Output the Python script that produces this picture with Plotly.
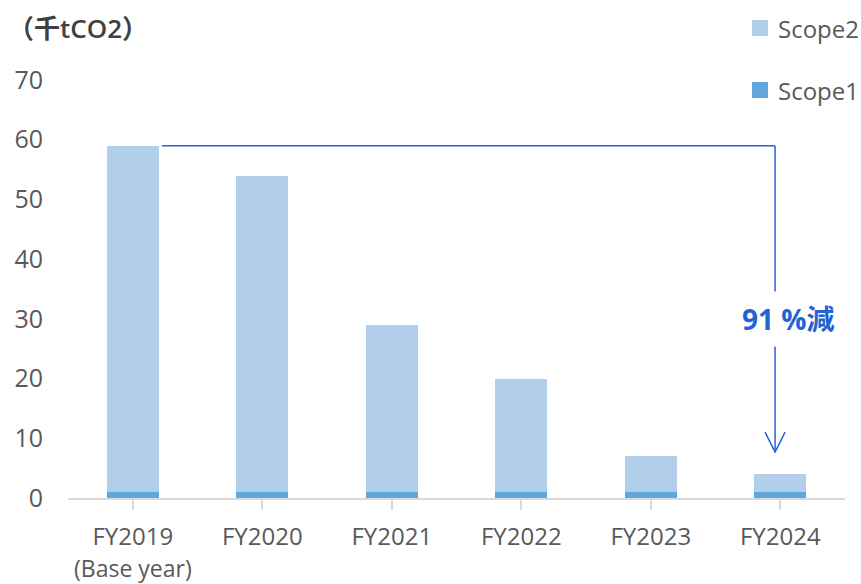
import plotly.graph_objects as go

years = ["FY2019", "FY2020", "FY2021", "FY2022", "FY2023", "FY2024"]
base_note = "(Base year)"
scope1 = [1, 1, 1, 1, 1, 1]
scope2 = [58, 53, 28, 19, 6, 3]
reduction_label = "91 %減"
unit_label = "（千tCO2）"

totals = [a + b for a, b in zip(scope1, scope2)]

FONT = "Open Sans, Noto Sans CJK JP, sans-serif"
GRAY = "#595959"
BLUE = "#2563D4"
C_S1 = "#5FA7DC"
C_S2 = "#B1CFEA"
W, H = 861, 584
ML, MR, MT, MB = 68, 16, 80, 86
PLOT_W = W - ML - MR
PLOT_H = H - MT - MB
Y_MAX = 70


def px_to_paper(px, py):
    return (px - ML) / PLOT_W, (H - MB - py) / PLOT_H


fig = go.Figure()
fig.add_trace(go.Bar(x=list(range(len(years))), y=scope1, name="Scope1",
                     marker=dict(color=C_S1, line=dict(width=0)),
                     width=0.4, showlegend=False))
fig.add_trace(go.Bar(x=list(range(len(years))), y=scope2, name="Scope2",
                     marker=dict(color=C_S2, line=dict(width=0)),
                     width=0.4, showlegend=False))

# reduction bracket: from the base-year top across to the last year, then down
base_top = totals[0]
last = len(years) - 1
x_start = 0 + 0.225
x_end = last - 0.04
fig.add_shape(type="line", x0=x_start, x1=x_end, y0=base_top, y1=base_top,
              line=dict(color=BLUE, width=1.5))
fig.add_shape(type="path", xref="x", yref="y",
              xsizemode="pixel", xanchor=x_end,
              ysizemode="pixel", yanchor=totals[last],
              path="M0,22 L0,%d" % int((base_top - totals[last]) * PLOT_H / Y_MAX),
              line=dict(color=BLUE, width=1.5))
# open arrow head
fig.add_shape(type="path", xref="x", yref="y",
              xsizemode="pixel", xanchor=x_end,
              ysizemode="pixel", yanchor=totals[last],
              path="M-10,42 L0,22 L10,42",
              line=dict(color=BLUE, width=1.5))

fig.add_annotation(x=x_end, y=(base_top + totals[last]) / 2 - 1.5, xref="x", yref="y",
                   text="<b>%s</b>" % reduction_label, showarrow=False,
                   xshift=13, bgcolor="white", borderpad=8,
                   font=dict(family=FONT, size=28, color=BLUE))

ux, uy = px_to_paper(6, 28)
fig.add_annotation(x=ux, y=uy, xref="paper", yref="paper",
                   xanchor="left", yanchor="middle", showarrow=False,
                   text=unit_label,
                   font=dict(family=FONT, size=26, color="#404040", weight=600))

# second line under the base-year tick label
fig.add_annotation(x=0, y=0, xref="x", yref="y", yshift=-70,
                   xanchor="center", yanchor="middle", showarrow=False,
                   text=base_note, font=dict(family=FONT, size=23, color=GRAY))

# legend, Scope2 above Scope1
for name, color, cy in [("Scope2", C_S2, 28), ("Scope1", C_S1, 90)]:
    x0, y0 = px_to_paper(752, cy + 8)
    x1, y1 = px_to_paper(768, cy - 8)
    fig.add_shape(type="rect", xref="paper", yref="paper",
                  x0=x0, x1=x1, y0=y0, y1=y1,
                  fillcolor=color, line=dict(width=0))
    tx, ty = px_to_paper(776, cy)
    fig.add_annotation(x=tx, y=ty, xref="paper", yref="paper",
                       xanchor="left", yanchor="middle", showarrow=False,
                       text=name, font=dict(family=FONT, size=24, color=GRAY))

fig.update_layout(
    width=W, height=H,
    margin=dict(l=ML, r=MR, t=MT, b=MB),
    barmode="stack", showlegend=False,
    plot_bgcolor="white", paper_bgcolor="white",
    font=dict(family=FONT, size=24, color=GRAY),
    xaxis=dict(tickmode="array", tickvals=list(range(len(years))), ticktext=years,
               range=[-0.5, len(years) - 0.5],
               showline=True, linecolor="#D9D9D9", linewidth=1.5,
               ticks="outside", tickson="boundaries", ticklen=10,
               tickcolor="#D9D9D9", tickwidth=1.5, ticklabelstandoff=6,
               showgrid=False, zeroline=False, automargin=False,
               tickfont=dict(family=FONT, size=24, color=GRAY)),
    yaxis=dict(range=[0, Y_MAX], dtick=10, showgrid=False, zeroline=False,
               showline=False, ticks="", ticklabelstandoff=24, automargin=False,
               tickfont=dict(family=FONT, size=25, color=GRAY)),
)

fig.write_html("out.html")
